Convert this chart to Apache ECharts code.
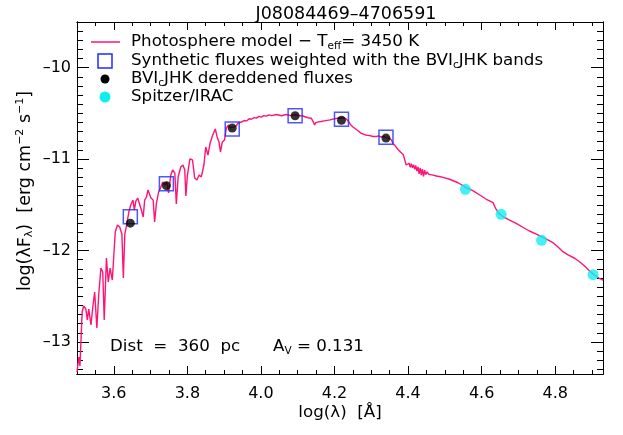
<!DOCTYPE html>
<html>
<head>
<meta charset="utf-8">
<title>J08084469-4706591 SED</title>
<script src="https://cdn.jsdelivr.net/npm/echarts@6/dist/echarts.min.js"></script>
<style>
  html, body { margin: 0; padding: 0; background: #ffffff; }
  #chart { width: 623px; height: 435px; }
</style>
</head>
<body>
<div id="chart"></div>
<script>
// Photosphere model spectrum: log(lambda [A]) and log(lambda F_lambda)
const specLogLam = [
  3.500, 3.505, 3.508, 3.514, 3.518, 3.524, 3.528, 3.532, 3.538, 3.543,
  3.548, 3.554, 3.559, 3.565, 3.570, 3.574, 3.580, 3.585, 3.590, 3.596,
  3.600, 3.604, 3.610, 3.616, 3.622, 3.626, 3.630, 3.635, 3.641, 3.646,
  3.652, 3.656, 3.660, 3.665, 3.675, 3.680, 3.684, 3.689, 3.693, 3.701,
  3.707, 3.711, 3.716, 3.722, 3.728, 3.733, 3.739, 3.744, 3.749, 3.755,
  3.760, 3.766, 3.770, 3.775, 3.782, 3.788, 3.793, 3.796, 3.800, 3.807,
  3.814, 3.820, 3.826, 3.832, 3.838, 3.845, 3.850, 3.856, 3.862, 3.869,
  3.876, 3.881, 3.886, 3.890, 3.895, 3.901, 3.906, 3.912, 3.918, 3.924,
  3.933, 3.938, 3.947, 3.954, 3.961, 3.968, 3.974, 3.981, 3.988, 3.995,
  4.001, 4.008, 4.015, 4.022, 4.029, 4.042, 4.056, 4.069, 4.081, 4.094,
  4.104, 4.114, 4.128, 4.137, 4.142, 4.146, 4.149, 4.152, 4.156, 4.160,
  4.164, 4.168, 4.172, 4.176, 4.180, 4.184, 4.188, 4.192, 4.196, 4.200,
  4.204, 4.208, 4.212, 4.218, 4.226, 4.232, 4.238, 4.241, 4.244, 4.247,
  4.250, 4.253, 4.256, 4.260, 4.264, 4.268, 4.272, 4.276, 4.280, 4.284,
  4.288, 4.292, 4.296, 4.300, 4.305, 4.310, 4.314, 4.320, 4.327, 4.334,
  4.341, 4.348, 4.355, 4.359, 4.362, 4.366, 4.369, 4.373, 4.376, 4.380,
  4.383, 4.387, 4.391, 4.395, 4.400, 4.403, 4.406, 4.409, 4.412, 4.415,
  4.418, 4.421, 4.424, 4.427, 4.430, 4.433, 4.436, 4.439, 4.442, 4.445,
  4.448, 4.452, 4.456, 4.460, 4.465, 4.470, 4.477, 4.485, 4.495, 4.513,
  4.536, 4.557, 4.576, 4.595, 4.613, 4.631, 4.638, 4.647, 4.658, 4.676,
  4.694, 4.712, 4.730, 4.749, 4.767, 4.780, 4.794, 4.807, 4.821, 4.835,
  4.853, 4.866, 4.880, 4.893, 4.907, 4.920, 4.930
];
const specLogFlux = [
  -13.328, -13.164, -13.262, -12.672, -12.606, -12.639, -12.759, -12.639, -12.814, -12.617,
  -12.453, -12.847, -12.486, -12.191, -12.234, -12.759, -12.081, -12.344, -12.191, -12.322,
  -12.059, -11.797, -11.720, -11.742, -11.819, -12.300, -11.819, -11.720, -11.578, -11.502,
  -11.447, -11.556, -11.458, -11.425, -11.556, -11.633, -11.447, -11.414, -11.337, -11.425,
  -11.447, -11.687, -11.480, -11.359, -11.305, -11.250, -11.283, -11.250, -11.370, -11.173,
  -11.119, -11.152, -11.491, -11.195, -11.086, -11.064, -11.119, -11.403, -11.184, -10.998,
  -11.009, -11.206, -11.228, -11.173, -11.195, -11.064, -10.867, -10.955, -10.823, -10.736,
  -10.670, -10.758, -10.812, -10.922, -10.812, -10.791, -10.659, -10.627, -10.659, -10.648,
  -10.637, -10.605, -10.594, -10.578, -10.582, -10.558, -10.564, -10.546, -10.552, -10.532,
  -10.540, -10.524, -10.530, -10.515, -10.524, -10.512, -10.525, -10.512, -10.524, -10.515,
  -10.526, -10.528, -10.547, -10.553, -10.590, -10.627, -10.600, -10.612, -10.592, -10.608,
  -10.588, -10.602, -10.582, -10.596, -10.576, -10.590, -10.570, -10.584, -10.562, -10.574,
  -10.555, -10.568, -10.550, -10.552, -10.548, -10.561, -10.585, -10.600, -10.625, -10.615,
  -10.648, -10.635, -10.665, -10.655, -10.690, -10.688, -10.715, -10.700, -10.728, -10.712,
  -10.740, -10.728, -10.742, -10.735, -10.752, -10.740, -10.752, -10.745, -10.758, -10.750,
  -10.765, -10.770, -10.791, -10.830, -10.815, -10.860, -10.845, -10.895, -10.875, -10.925,
  -10.905, -10.950, -10.955, -11.064, -11.083, -11.045, -11.090, -11.050, -11.095, -11.060,
  -11.110, -11.070, -11.130, -11.085, -11.160, -11.095, -11.175, -11.110, -11.190, -11.120,
  -11.170, -11.140, -11.165, -11.150, -11.172, -11.168, -11.184, -11.190, -11.199, -11.220,
  -11.258, -11.308, -11.345, -11.392, -11.439, -11.476, -11.538, -11.592, -11.630, -11.666,
  -11.702, -11.745, -11.786, -11.819, -11.855, -11.884, -11.914, -11.958, -12.012, -12.048,
  -12.084, -12.122, -12.169, -12.220, -12.267, -12.303, -12.322
];

// B, V, Ic, J, H, K bands
const bandLogLam = [3.645, 3.743, 3.922, 4.093, 4.219, 4.340];
const synthFlux  = [-11.63, -11.27, -10.67, -10.525, -10.565, -10.76];
const obsFlux    = [-11.70, -11.29, -10.66, -10.525, -10.575, -10.77];

// Spitzer/IRAC 3.6, 4.5, 5.8, 8.0 micron
const iracLogLam = [4.556, 4.653, 4.763, 4.903];
const iracFlux   = [-11.33, -11.603, -11.888, -12.264];

// Axis ticks
const xMajorTicks = [3.6, 3.8, 4.0, 4.2, 4.4, 4.6, 4.8];
const yMajorTicks = [-13, -12, -11, -10];
const X_MIN = 3.5, X_MAX = 4.93, Y_MIN = -13.35, Y_MAX = -9.5;

const xMinorTicks = [];
for (let k = 70; k <= 98; k++) xMinorTicks.push(+(k * 0.05).toFixed(2));
const yMinorTicks = [];
for (let k = -133; k <= -95; k++) yMinorTicks.push(+(k * 0.1).toFixed(1));

const FONT = 'DejaVu Sans';
const BLACK = '#000000';
const LINE_RED = '#ff1475';
const SQ_BLUE = '#1f2dff';
const IRAC_CYAN = '#10eef2';

function axisBase(extra) {
  return Object.assign({
    type: 'value',
    splitLine: { show: false },
    axisLine: { show: true, onZero: false, lineStyle: { color: BLACK, width: 1 } },
    animation: false
  }, extra);
}

function xAxisSet(pos, major, withLabels) {
  return axisBase({
    position: pos,
    min: X_MIN, max: X_MAX,
    axisTick: {
      show: true, inside: true, length: major ? 8 : 4,
      customValues: major ? xMajorTicks : xMinorTicks,
      lineStyle: { color: BLACK, width: 1 }
    },
    axisLabel: withLabels ? {
      show: true, customValues: xMajorTicks, margin: 12,
      fontFamily: FONT, fontSize: 16, color: BLACK,
      formatter: v => v.toFixed(1)
    } : { show: false }
  });
}

function yAxisSet(pos, major, withLabels) {
  return axisBase({
    position: pos,
    min: Y_MIN, max: Y_MAX,
    axisTick: {
      show: true, inside: true, length: major ? 12 : 6,
      customValues: major ? yMajorTicks : yMinorTicks,
      lineStyle: { color: BLACK, width: 1 }
    },
    axisLabel: withLabels ? {
      show: true, customValues: yMajorTicks, margin: 6,
      fontFamily: FONT, fontSize: 16, color: BLACK,
      formatter: v => '\u2013' + Math.abs(v)
    } : { show: false }
  });
}

const chart = echarts.init(document.getElementById('chart'), null, { renderer: 'canvas' });

const TXT_SIZE = 16.7;
const txt = { fontFamily: FONT, fontSize: TXT_SIZE, color: BLACK, lineHeight: 20, verticalAlign: 'middle' };
const sub = { fontFamily: FONT, fontSize: 10.5, color: BLACK, lineHeight: 10, verticalAlign: 'bottom' };
const sup = { fontFamily: FONT, fontSize: 10.5, color: BLACK, lineHeight: 10, verticalAlign: 'top' };
const richSet = { n: txt, s: sub, p: sup };

const yTxt = Object.assign({}, txt, { fontSize: 17.5 });
const yRich = { n: yTxt, s: Object.assign({}, sub, { fontSize: 11 }), p: Object.assign({}, sup, { fontSize: 11 }) };

function richText(x, y, str, align) {
  return {
    type: 'text', x: x, y: y, silent: true,
    style: { text: str, rich: richSet, fontFamily: FONT, fontSize: TXT_SIZE, fill: BLACK,
             align: align || 'left', verticalAlign: 'middle' }
  };
}

const legendX = 105, legendTextX = 131;
const legendRows = [42, 61, 79, 97];

chart.setOption({
  animation: false,
  backgroundColor: '#ffffff',
  title: {
    text: 'J08084469\u20134706591',
    left: 341, top: 0, textAlign: 'center',
    textStyle: { fontFamily: FONT, fontSize: 17.5, fontWeight: 'normal', color: BLACK }
  },
  grid: { left: 77, right: 20, top: 22, bottom: 61, containLabel: false },
  xAxis: [
    xAxisSet('bottom', true, true),
    xAxisSet('bottom', false, false),
    xAxisSet('top', true, false),
    xAxisSet('top', false, false)
  ],
  yAxis: [
    yAxisSet('left', true, true),
    yAxisSet('left', false, false),
    yAxisSet('right', true, false),
    yAxisSet('right', false, false)
  ],
  series: [
    {
      name: 'Photosphere model',
      type: 'line',
      data: specLogLam.map((x, i) => [x, specLogFlux[i]]),
      showSymbol: false,
      symbol: 'none',
      lineStyle: { color: LINE_RED, width: 1.4 },
      z: 2
    },
    {
      name: 'Synthetic fluxes',
      type: 'scatter',
      data: bandLogLam.map((x, i) => [x, synthFlux[i]]),
      symbol: 'rect',
      symbolSize: 14,
      itemStyle: { color: 'rgba(0,0,0,0)', borderColor: SQ_BLUE, borderWidth: 1.5 },
      z: 3
    },
    {
      name: 'Dereddened fluxes',
      type: 'scatter',
      data: bandLogLam.map((x, i) => [x, obsFlux[i]]),
      symbol: 'circle',
      symbolSize: 9,
      itemStyle: { color: BLACK },
      z: 4
    },
    {
      name: 'Spitzer/IRAC',
      type: 'scatter',
      data: iracLogLam.map((x, i) => [x, iracFlux[i]]),
      symbol: 'circle',
      symbolSize: 11,
      itemStyle: { color: IRAC_CYAN },
      z: 4
    }
  ],
  graphic: [
    // legend keys
    { type: 'line', silent: true, shape: { x1: 91, y1: legendRows[0], x2: 120, y2: legendRows[0] },
      style: { stroke: LINE_RED, lineWidth: 1.5 } },
    { type: 'rect', silent: true, shape: { x: legendX - 7, y: legendRows[1] - 7, width: 14, height: 14 },
      style: { fill: 'none', stroke: SQ_BLUE, lineWidth: 1.5 } },
    { type: 'circle', silent: true, shape: { cx: legendX, cy: legendRows[2], r: 4.5 },
      style: { fill: BLACK } },
    { type: 'circle', silent: true, shape: { cx: legendX, cy: legendRows[3], r: 5.5 },
      style: { fill: IRAC_CYAN } },
    // legend texts
    richText(legendTextX, legendRows[0], '{n|Photosphere model \u2212 T}{s|eff}{n|= 3450 K}'),
    richText(legendTextX, legendRows[1], '{n|Synthetic fluxes weighted with the BVI}{s|c}{n|JHK bands}'),
    richText(legendTextX, legendRows[2], '{n|BVI}{s|c}{n|JHK dereddened fluxes}'),
    richText(legendTextX, legendRows[3], '{n|Spitzer/IRAC}'),
    // annotations
    richText(110, 347, '{n|Dist  =  360  pc}'),
    richText(273, 347, '{n|A}{s|V}{n| = 0.131}'),
    // axis titles
    richText(340, 413, '{n|log(\u03bb)  [\u00c5]}', 'center'),
    {
      type: 'text', silent: true, x: 25, y: 191, rotation: Math.PI / 2,
      style: {
        text: '{n|log(\u03bbF}{s|\u03bb}{n|)  [erg cm}{p|\u22122}{n| s}{p|\u22121}{n|]}',
        rich: yRich, align: 'center', verticalAlign: 'middle'
      }
    }
  ]
});
</script>
</body>
</html>
